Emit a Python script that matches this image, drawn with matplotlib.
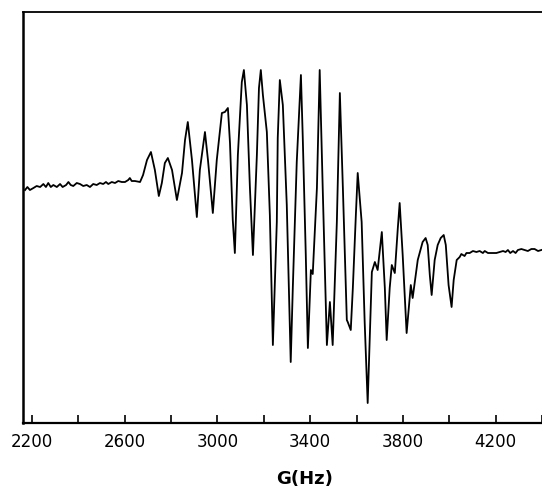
import matplotlib.pyplot as plt
import numpy as np

# field axis (Hz) and derivative signal (arbitrary units)
field = [
    2170, 2180, 2191, 2206, 2220, 2235, 2249, 2260, 2270, 2281, 2292, 2307,
    2321, 2332, 2347, 2357, 2367, 2378, 2393, 2407, 2421, 2436, 2450, 2464,
    2479, 2493, 2507, 2519, 2529, 2544, 2558, 2572, 2587, 2601, 2615, 2622,
    2630, 2644, 2666,
    2679, 2696, 2713, 2730, 2747, 2760, 2773, 2786, 2804, 2825, 2847, 2860,
    2872, 2890, 2911, 2924, 2946, 2959, 2980, 2997, 3019, 3032, 3045, 3054,
    3066, 3075, 3088, 3105, 3114, 3127, 3140, 3153, 3170, 3179, 3187, 3196,
    3213, 3226, 3239, 3256, 3260, 3269, 3282, 3299, 3316, 3325, 3342, 3360,
    3368, 3381, 3390, 3403, 3411, 3429, 3441, 3454, 3472, 3485, 3497, 3515,
    3528, 3541, 3558, 3562, 3575, 3584, 3597, 3605, 3622, 3635, 3648, 3657,
    3666, 3679, 3691, 3709, 3722, 3730, 3743, 3752, 3765, 3778, 3786, 3799,
    3816, 3834, 3842, 3864, 3885, 3898, 3907, 3916, 3924, 3937, 3950, 3963,
    3976, 3985, 3997, 4010, 4019, 4032,
    4045, 4052, 4066, 4074, 4088, 4102, 4117, 4131, 4145, 4153, 4167, 4188,
    4203, 4217, 4232, 4243, 4253, 4263, 4275, 4286, 4296, 4311, 4325, 4339,
    4354, 4368, 4383, 4397,
]
signal = [
    -0.5, -0.2, -0.5, -0.3, -0.1, -0.2, 0.1, -0.2, 0.2, -0.2, 0.0, -0.2,
    0.1, -0.2, 0.0, 0.3, 0.0, -0.1, 0.2, 0.1, -0.1, 0.0, -0.2, 0.1,
    0.0, 0.2, 0.1, 0.3, 0.1, 0.3, 0.2, 0.4, 0.3, 0.3, 0.5, 0.7,
    0.4, 0.4, 0.3,
    1.0, 2.5, 3.3, 1.5, -1.1, 0.2, 2.2, 2.7, 1.5, -1.5, 1.2, 4.5,
    6.3, 2.5, -3.2, 1.5, 5.3, 2.5, -2.8, 2.5, 7.2, 7.3, 7.7, 4.2,
    -3.5, -6.8, 3.0, 10.3, 11.5, 8.0, -0.3, -7.0, 3.0, 9.7, 11.5, 9.0,
    5.3, -3.0, -16.0, -3.7, 4.7, 10.5, 8.0, -2.0, -17.7, -10.3, 2.3, 11.0,
    4.7, -7.0, -16.3, -8.5, -8.9, -0.3, 11.5, -0.3, -16.0, -11.7, -16.0, -3.7,
    9.2, -0.3, -13.5, -13.7, -14.5, -10.3, -3.0, 1.2, -3.7, -13.7, -21.8, -15.3,
    -8.7, -7.7, -8.5, -4.7, -10.3, -15.5, -10.3, -8.0, -8.8, -4.3, -1.8, -7.0,
    -14.8, -10.0, -11.3, -7.5, -5.7, -5.3, -6.0, -9.0, -11.0, -7.5, -6.0, -5.3,
    -5.0, -6.0, -10.0, -12.2, -9.5, -7.5,
    -7.2, -6.9, -7.1, -6.8, -6.8, -6.6, -6.7, -6.6, -6.8, -6.6, -6.8, -6.8,
    -6.8, -6.7, -6.6, -6.7, -6.5, -6.8, -6.6, -6.8, -6.5, -6.4, -6.5, -6.6,
    -6.4, -6.4, -6.6, -6.5,
]
major_ticks = [2200, 2600, 3000, 3400, 3800, 4200]
minor_ticks = [2400, 2800, 3200, 3600, 4000, 4400]

fig = plt.figure(figsize=(5.42, 4.90), dpi=100)
ax = fig.add_axes([0.0424, 0.1367, 0.9576, 0.8388])

ax.plot(field, signal, color="black", linewidth=1.3)

ax.set_xlim(2161, 4398)
ax.set_ylim(-23.8, 17.3)

ax.set_xticks(major_ticks)
ax.set_xticks(minor_ticks, minor=True)
ax.set_xticklabels([str(t) for t in major_ticks], fontsize=12)
ax.tick_params(axis="x", which="both", direction="in", length=6,
               width=1.2, pad=7)
ax.set_yticks([])

ax.spines["right"].set_visible(False)
ax.spines["left"].set_linewidth(1.8)
ax.spines["bottom"].set_linewidth(1.6)
ax.spines["top"].set_linewidth(1.3)

ax.set_xlabel("G(Hz)", fontsize=13, fontweight="bold")
ax.xaxis.set_label_coords(0.543, -0.115)

fig.savefig("out.png", dpi=100)
